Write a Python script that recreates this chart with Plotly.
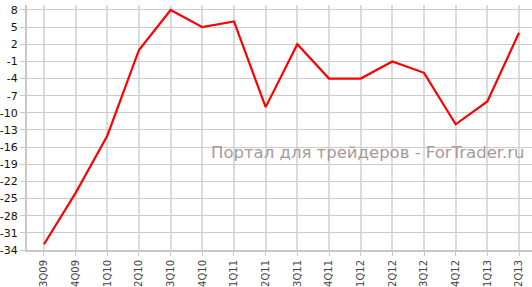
import plotly.graph_objects as go

quarters = ["3Q09", "4Q09", "1Q10", "2Q10", "3Q10", "4Q10", "1Q11", "2Q11",
            "3Q11", "4Q11", "1Q12", "2Q12", "3Q12", "4Q12", "1Q13", "2Q13"]
values = [-33, -24, -14, 1, 8, 5, 6, -9, 2, -4, -4, -1, -3, -12, -8, 4]
y_ticks = [8, 5, 2, -1, -4, -7, -10, -13, -16, -19, -22, -25, -28, -31, -34]

fig = go.Figure()
fig.add_trace(go.Scatter(
    x=list(range(len(quarters))), y=values, mode="lines",
    line=dict(color="#ff0000", width=2.2),
    hoverinfo="skip", showlegend=False,
))

fig.add_annotation(
    text="Портал для трейдеров - ForTrader.ru",
    xref="paper", yref="paper", x=0.99, y=0.40,
    xanchor="right", yanchor="middle", showarrow=False,
    font=dict(family="DejaVu Sans", size=16.5, color="#a79a9a"),
)

fig.update_layout(
    width=532, height=287,
    margin=dict(l=26, r=0, t=5, b=35),
    paper_bgcolor="white", plot_bgcolor="white",
    font=dict(family="DejaVu Sans", size=10, color="#222222"),
    xaxis=dict(
        range=[-0.536, 15.41],
        tickmode="array", tickvals=list(range(len(quarters))), ticktext=quarters,
        tickangle=-90, showgrid=True, gridcolor="#dcdcdc", gridwidth=2,
        showline=True, linecolor="#c8c8c8", linewidth=2,
        ticks="outside", ticklen=4, tickcolor="#c8c8c8",
        tickfont=dict(family="DejaVu Sans", size=10, color="#444444"),
        zeroline=False, fixedrange=True,
    ),
    yaxis=dict(
        range=[-34, 8.87],
        tickmode="array", tickvals=y_ticks, ticktext=[str(v) for v in y_ticks],
        showgrid=True, gridcolor="#cccccc", gridwidth=1,
        showline=True, linecolor="#c8c8c8", linewidth=2,
        ticks="outside", ticklen=5, tickcolor="#c8c8c8",
        tickfont=dict(family="DejaVu Sans", size=11, color="#111111"),
        zeroline=False, fixedrange=True,
    ),
)

fig.write_html("out.html")
